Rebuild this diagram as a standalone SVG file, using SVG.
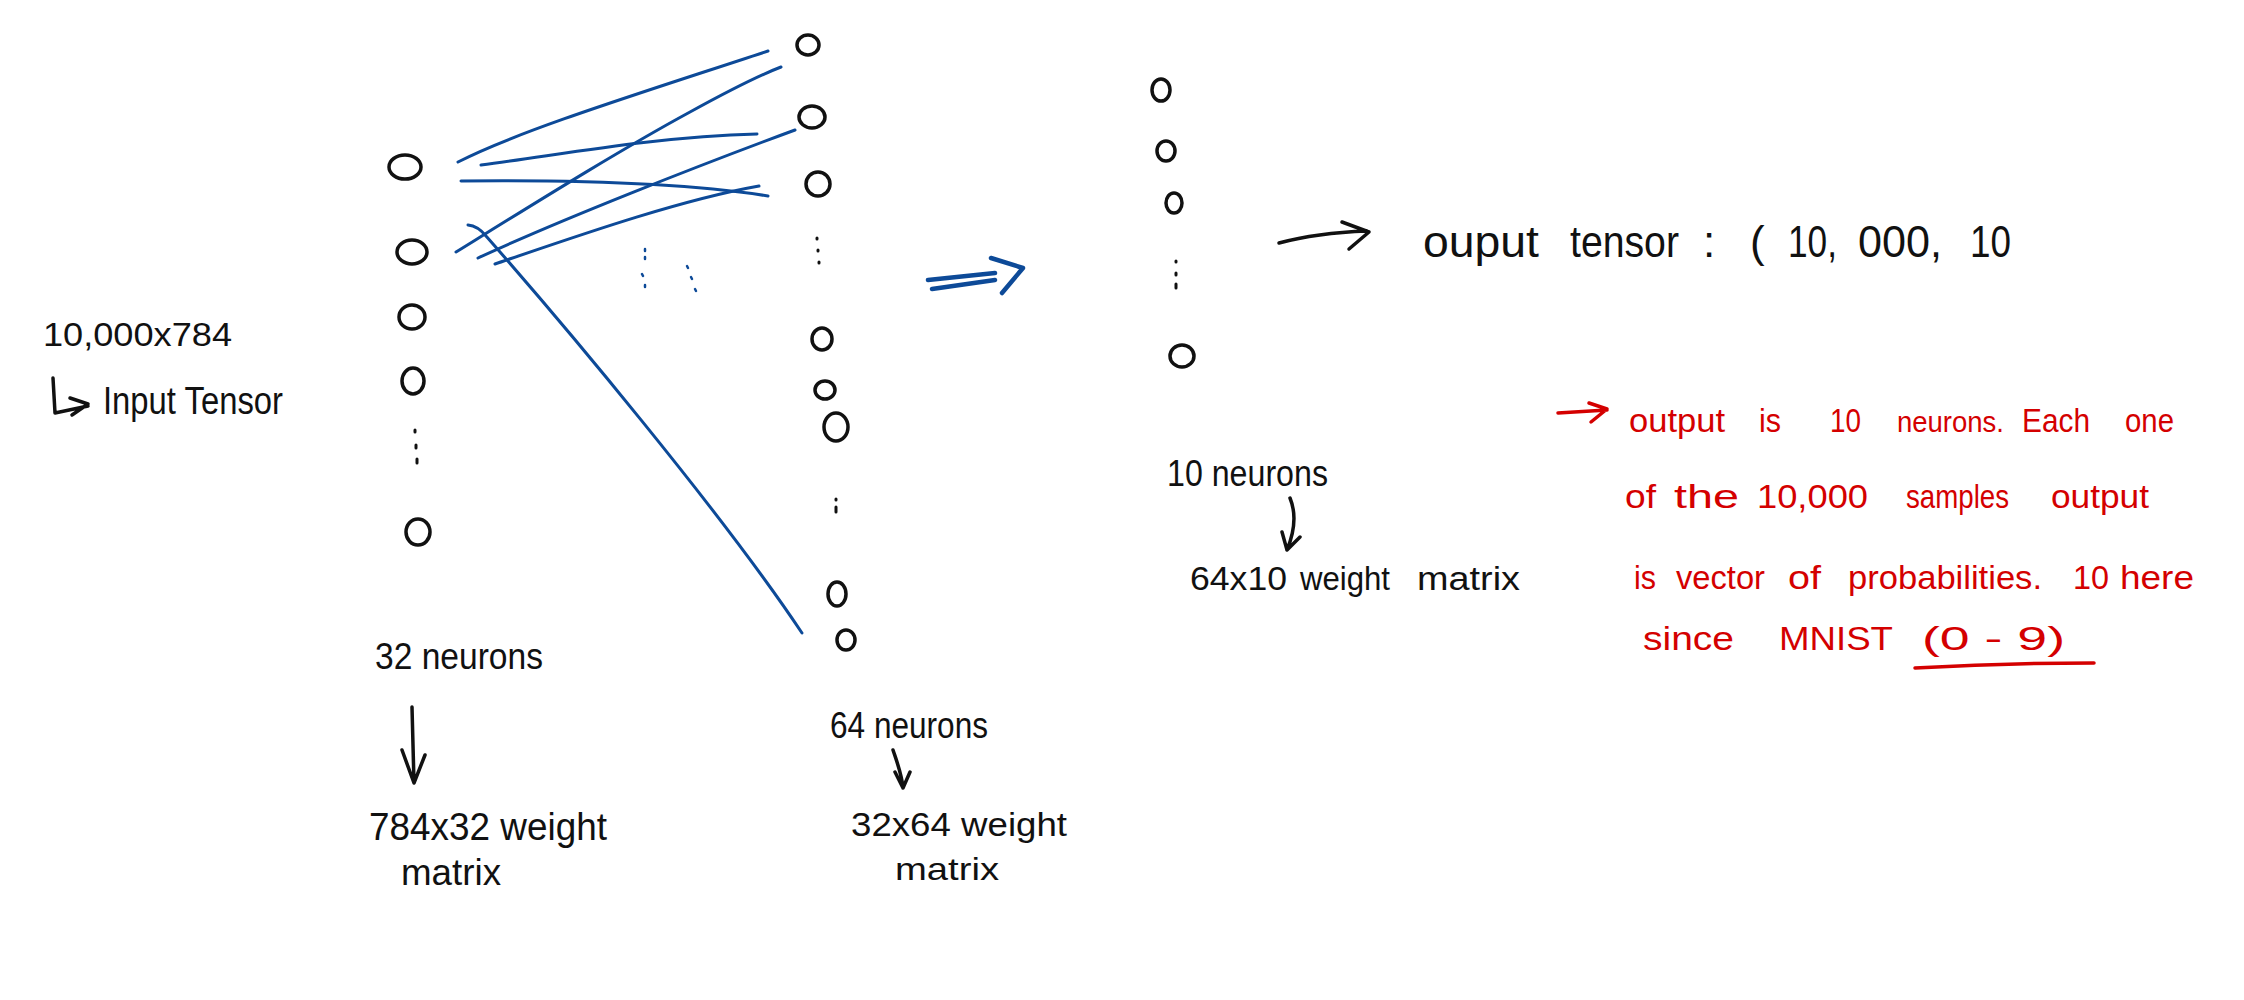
<svg xmlns="http://www.w3.org/2000/svg" width="2244" height="1000" viewBox="0 0 2244 1000">
<style>
.n{fill:none;stroke:#111;stroke-width:3.5}
.d{fill:none;stroke:#111;stroke-width:3;stroke-linecap:round}
.w{fill:none;stroke:#0d4a98;stroke-width:3;stroke-linecap:round}
.wd{fill:none;stroke:#0d4a98;stroke-width:2.5;stroke-linecap:round}
.a{fill:none;stroke:#111;stroke-width:3.5;stroke-linecap:round;stroke-linejoin:round}
.ab{fill:none;stroke:#0d4a98;stroke-width:4.5;stroke-linecap:round;stroke-linejoin:round}
.ar{fill:none;stroke:#d40000;stroke-width:3.5;stroke-linecap:round;stroke-linejoin:round}
text{font-family:"Liberation Sans",Arial,sans-serif;fill:#111}
.rd{fill:#d40000;font-size:34px}
</style>
<rect width="2244" height="1000" fill="#fff"/>

<g id="connectors">
<path class="w" d="M458,162 C520,130 650,90 768,51"/>
<path class="w" d="M481,165 C560,155 650,137 757,134"/>
<path class="w" d="M461,181 C560,180 680,182 768,196"/>
<path class="w" d="M456,252 C540,200 620,150 690,112 C730,90 760,75 781,67"/>
<path class="w" d="M478,258 C560,220 700,165 795,130"/>
<path class="w" d="M495,264 C580,235 680,200 759,186"/>
<path class="w" d="M468,225 Q478,226 486,236 C560,320 720,510 802,633"/>
<g id="blue-dots">
<path class="wd" d="M645,249 v2 M645,257 v2 M642,274 l1,2 M645,285 v2"/>
<path class="wd" d="M687,266 l1,2 M691,277 l1,2 M695,289 l1,2"/>
</g>
<g id="blue-arrow">
<path class="ab" d="M928,280 L995,273 M932,289 L995,280 M991,258 L1023,268 L1002,293"/>
</g>
<g id="output-arrow">
<path class="a" d="M1279,243 C1305,236 1340,232 1367,231 M1342,222 L1369,232 L1349,249"/>
</g>
</g>

<g id="input-label">
<text x="43" y="346" font-size="34" textLength="189" lengthAdjust="spacingAndGlyphs">10,000x784</text>
<path class="a" d="M53,378 L55,413 L88,406 M70,398 L88,404 L72,415"/>
<text x="103" y="414" font-size="38" textLength="180" lengthAdjust="spacingAndGlyphs">Input Tensor</text>
</g>

<g id="layer1">
<g id="n1-1"><ellipse class="n" cx="405" cy="167" rx="16" ry="12"/></g>
<g id="n1-2"><ellipse class="n" cx="412" cy="252" rx="15" ry="12"/></g>
<g id="n1-3"><ellipse class="n" cx="412" cy="317" rx="13" ry="12"/></g>
<g id="n1-4"><ellipse class="n" cx="413" cy="381" rx="11" ry="13"/></g>
<path class="d" d="M415,430 v2 M416,445 v3 M417,459 v4"/>
<g id="n1-5"><ellipse class="n" cx="418" cy="532" rx="12" ry="13"/></g>
<text x="375" y="669" font-size="36" textLength="168" lengthAdjust="spacingAndGlyphs">32 neurons</text>
<path class="a" d="M412,707 L414,783 M402,750 L414,783 L425,755"/>
<text x="369" y="840" font-size="38" textLength="238" lengthAdjust="spacingAndGlyphs">784x32 weight</text>
<text x="401" y="885" font-size="36" textLength="100" lengthAdjust="spacingAndGlyphs">matrix</text>
</g>

<g id="layer2">
<g id="n2-1"><ellipse class="n" cx="808" cy="45" rx="11" ry="10"/></g>
<g id="n2-2"><ellipse class="n" cx="812" cy="117" rx="13" ry="11"/></g>
<g id="n2-3"><ellipse class="n" cx="818" cy="184" rx="12" ry="12"/></g>
<path class="d" d="M817,238 v1 M818,250 v1 M819,262 v1"/>
<g id="n2-4"><ellipse class="n" cx="822" cy="339" rx="10" ry="11"/></g>
<g id="n2-5"><ellipse class="n" cx="825" cy="390" rx="10" ry="9"/></g>
<g id="n2-6"><ellipse class="n" cx="836" cy="427" rx="12" ry="14"/></g>
<path class="d" d="M836,499 v1 M836,507 v5"/>
<g id="n2-7"><ellipse class="n" cx="837" cy="594" rx="9" ry="12"/></g>
<g id="n2-8"><ellipse class="n" cx="846" cy="640" rx="9" ry="10"/></g>
<text x="830" y="738" font-size="36" textLength="158" lengthAdjust="spacingAndGlyphs">64 neurons</text>
<path class="a" d="M893,750 C897,762 902,775 903,788 M895,772 L903,788 L910,772"/>
<text x="851" y="836" font-size="34" textLength="216" lengthAdjust="spacingAndGlyphs">32x64 weight</text>
<text x="895" y="880" font-size="32" textLength="104" lengthAdjust="spacingAndGlyphs">matrix</text>
</g>

<g id="layer3">
<g id="n3-1"><ellipse class="n" cx="1161" cy="90" rx="9" ry="11"/></g>
<g id="n3-2"><ellipse class="n" cx="1166" cy="151" rx="9" ry="10"/></g>
<g id="n3-3"><ellipse class="n" cx="1174" cy="203" rx="8" ry="10"/></g>
<path class="d" d="M1176,261 v1 M1176,273 v2 M1176,284 v4"/>
<g id="n3-4"><ellipse class="n" cx="1182" cy="356" rx="12" ry="11"/></g>
<text x="1167" y="486" font-size="36" textLength="161" lengthAdjust="spacingAndGlyphs">10 neurons</text>
<path class="a" d="M1290,498 C1297,515 1294,533 1287,550 M1282,532 L1287,550 L1300,537"/>
<text x="1190" y="590" font-size="34" textLength="97" lengthAdjust="spacingAndGlyphs">64x10</text>
<text x="1300" y="590" font-size="34" textLength="90" lengthAdjust="spacingAndGlyphs">weight</text>
<text x="1417" y="590" font-size="34" textLength="103" lengthAdjust="spacingAndGlyphs">matrix</text>
</g>

<g id="output-label">
<text x="1423" y="257" font-size="44" textLength="116" lengthAdjust="spacingAndGlyphs">ouput</text>
<text x="1570" y="257" font-size="44" textLength="109" lengthAdjust="spacingAndGlyphs">tensor</text>
<text x="1703" y="257" font-size="44">:</text>
<text x="1750" y="257" font-size="44">(</text>
<text x="1788" y="257" font-size="44" textLength="49" lengthAdjust="spacingAndGlyphs">10,</text>
<text x="1858" y="257" font-size="44" textLength="84" lengthAdjust="spacingAndGlyphs">000,</text>
<text x="1970" y="257" font-size="44" textLength="41" lengthAdjust="spacingAndGlyphs">10</text>
</g>

<g id="note">
<path class="ar" d="M1558,413 L1607,410 M1589,403 L1607,409 L1591,422"/>
<text class="rd" x="1629" y="432" textLength="96" lengthAdjust="spacingAndGlyphs">output</text>
<text class="rd" x="1759" y="432" textLength="22" lengthAdjust="spacingAndGlyphs">is</text>
<text class="rd" x="1830" y="432" textLength="31" lengthAdjust="spacingAndGlyphs">10</text>
<text class="rd" x="1897" y="432" style="font-size:29px" textLength="107" lengthAdjust="spacingAndGlyphs">neurons.</text>
<text class="rd" x="2022" y="432" textLength="68" lengthAdjust="spacingAndGlyphs">Each</text>
<text class="rd" x="2125" y="432" textLength="49" lengthAdjust="spacingAndGlyphs">one</text>
<text class="rd" x="1625" y="508" textLength="31" lengthAdjust="spacingAndGlyphs">of</text>
<text class="rd" x="1674" y="508" textLength="65" lengthAdjust="spacingAndGlyphs">the</text>
<text class="rd" x="1757" y="508" textLength="111" lengthAdjust="spacingAndGlyphs">10,000</text>
<text class="rd" x="1906" y="508" textLength="103" lengthAdjust="spacingAndGlyphs">samples</text>
<text class="rd" x="2051" y="508" textLength="98" lengthAdjust="spacingAndGlyphs">output</text>
<text class="rd" x="1634" y="589" textLength="22" lengthAdjust="spacingAndGlyphs">is</text>
<text class="rd" x="1676" y="589" textLength="89" lengthAdjust="spacingAndGlyphs">vector</text>
<text class="rd" x="1788" y="589" textLength="33" lengthAdjust="spacingAndGlyphs">of</text>
<text class="rd" x="1848" y="589" textLength="194" lengthAdjust="spacingAndGlyphs">probabilities.</text>
<text class="rd" x="2073" y="589" textLength="36" lengthAdjust="spacingAndGlyphs">10</text>
<text class="rd" x="2120" y="589" textLength="74" lengthAdjust="spacingAndGlyphs">here</text>
<text class="rd" x="1643" y="650" textLength="91" lengthAdjust="spacingAndGlyphs">since</text>
<text class="rd" x="1779" y="650" textLength="114" lengthAdjust="spacingAndGlyphs">MNIST</text>
<text class="rd" x="1922" y="650" textLength="143" lengthAdjust="spacingAndGlyphs">(0 - 9)</text>
<path class="ar" d="M1915,668 C1970,665 2040,663 2094,663"/>
</g>
</svg>
